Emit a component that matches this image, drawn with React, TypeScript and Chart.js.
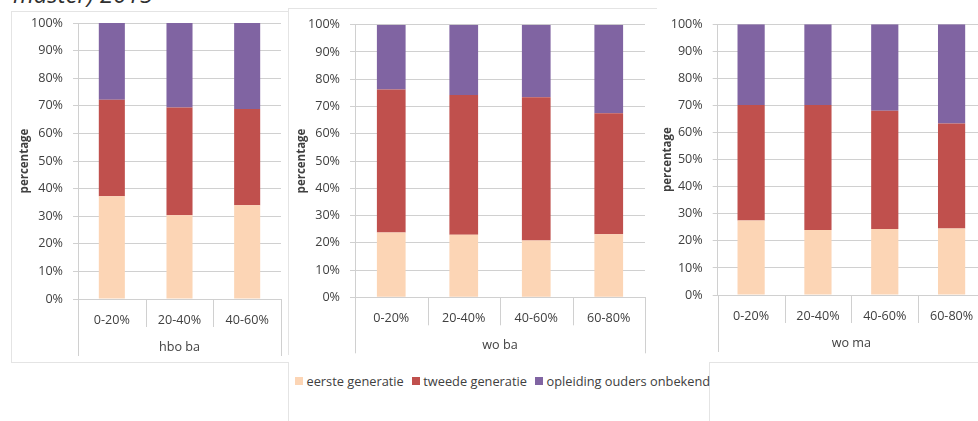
import React, { useEffect, useRef } from "react";
import { Chart, registerables } from "chart.js";

Chart.register(...registerables);

// ---------- data ----------
const seriesNames = ["eerste generatie", "tweede generatie", "opleiding ouders onbekend"];
const seriesColors = ["#FCD5B5", "#C0504D", "#8064A2"];

const hboBaCategories = ["0-20%", "20-40%", "40-60%"];
const hboBaEerste = [37.2, 30.3, 34.0];
const hboBaTweede = [35.0, 39.1, 34.8];
const hboBaOnbekend = [27.8, 30.6, 31.2];

const woBaCategories = ["0-20%", "20-40%", "40-60%", "60-80%"];
const woBaEerste = [23.8, 22.9, 20.8, 23.1];
const woBaTweede = [52.4, 51.3, 52.6, 44.4];
const woBaOnbekend = [23.8, 25.8, 26.6, 32.5];

const woMaCategories = ["0-20%", "20-40%", "40-60%", "60-80%"];
const woMaEerste = [27.5, 24.0, 24.4, 24.6];
const woMaTweede = [42.7, 46.2, 43.7, 38.8];
const woMaOnbekend = [29.8, 29.8, 31.9, 36.6];

const yMin = 0;
const yMax = 100;
const yStep = 10;
const yAxisTitle = "percentage";
const groupLabels = ["hbo ba", "wo ba", "wo ma"];
const headerText = "master) 2015";

// ---------- styles ----------
const FONT = "'Open Sans', 'DejaVu Sans', sans-serif";
const TEXT = "#404040";
const GRID = "#d0d0d0";
const FRAME = "#e4e4e4";
const TICK_SIZE = 12.6;

type PanelSpec = {
  categories: string[];
  series: number[][];
  group: string;
  left: number;
  top: number;
  width: number;
  height: number;
  padTop: number;
  padRight: number;
  yWidth: number;
  xHeight: number;
  barPct: number;
  titlePad: number;
  innerLen: number;
  outerLen: number;
  labelOffset: number;
};

const excelAxisPlugin = {
  id: "excelAxis",
  afterDraw(chart: any, _args: any, opts: any) {
    const xs = chart.scales.x;
    const area = chart.chartArea;
    const ctx = chart.ctx;
    const n = chart.data.labels.length;
    const bounds: number[] = [];
    for (let i = 0; i <= n; i++) {
      let px: number;
      if (i === 0) px = xs.left;
      else if (i === n) px = xs.right;
      else px = (xs.getPixelForValue(i - 1) + xs.getPixelForValue(i)) / 2;
      bounds.push(px);
    }
    ctx.save();
    ctx.strokeStyle = opts.color;
    ctx.lineWidth = 1;
    bounds.forEach((b, i) => {
      const len = i === 0 || i === n ? opts.outerLen : opts.innerLen;
      const xx = Math.round(b) + 0.5;
      ctx.beginPath();
      ctx.moveTo(xx, area.bottom);
      ctx.lineTo(xx, area.bottom + len);
      ctx.stroke();
    });
    ctx.fillStyle = opts.textColor;
    ctx.font = `${TICK_SIZE}px ${FONT}`;
    ctx.textAlign = "center";
    ctx.textBaseline = "middle";
    ctx.fillText(opts.label, (xs.left + xs.right) / 2, area.bottom + opts.labelOffset);
    ctx.restore();
  },
};

function Panel({ spec }: { spec: PanelSpec }) {
  const ref = useRef<HTMLCanvasElement | null>(null);
  useEffect(() => {
    if (!ref.current) return;
    const chart = new Chart(ref.current, {
      type: "bar",
      data: {
        labels: spec.categories,
        datasets: spec.series.map((vals, i) => ({
          label: seriesNames[i],
          data: vals,
          backgroundColor: seriesColors[i],
          borderWidth: 0,
          barPercentage: spec.barPct,
          categoryPercentage: 1,
        })),
      },
      options: {
        responsive: false,
        animation: false,
        layout: { padding: { top: spec.padTop, right: spec.padRight, left: 0, bottom: 0 } },
        plugins: {
          legend: { display: false },
          tooltip: { enabled: false },
          excelAxis: {
            color: GRID,
            textColor: TEXT,
            label: spec.group,
            innerLen: spec.innerLen,
            outerLen: spec.outerLen,
            labelOffset: spec.labelOffset,
          },
        } as any,
        scales: {
          x: {
            stacked: true,
            grid: { display: false, drawTicks: false },
            border: { display: true, color: GRID },
            ticks: {
              color: TEXT,
              font: { family: FONT, size: TICK_SIZE },
              padding: 13.5,
              autoSkip: false,
              maxRotation: 0,
            },
            afterFit: (s: any) => {
              s.height = spec.xHeight;
              s.paddingLeft = 0;
              s.paddingRight = 0;
            },
          },
          y: {
            stacked: true,
            min: yMin,
            max: yMax,
            ticks: {
              stepSize: yStep,
              callback: (v: any) => `${v}%`,
              padding: 10,
              color: TEXT,
              font: { family: FONT, size: TICK_SIZE },
            },
            grid: { color: GRID, tickLength: 5 },
            border: { display: true, color: GRID },
            title: {
              display: true,
              text: yAxisTitle,
              color: TEXT,
              font: { family: FONT, size: 11.5, weight: "bold" },
              padding: { top: spec.titlePad, bottom: 0 },
            },
            afterFit: (s: any) => {
              s.width = spec.yWidth;
              s.paddingTop = 0;
              s.paddingBottom = 0;
            },
          },
        },
      } as any,
      plugins: [excelAxisPlugin as any],
    });
    return () => chart.destroy();
  }, [spec]);
  return (
    <canvas
      ref={ref}
      width={spec.width}
      height={spec.height}
      style={{
        position: "absolute",
        left: spec.left,
        top: spec.top,
        width: spec.width,
        height: spec.height,
      }}
    />
  );
}

const panels: PanelSpec[] = [
  {
    categories: hboBaCategories,
    series: [hboBaEerste, hboBaTweede, hboBaOnbekend],
    group: groupLabels[0],
    left: 11,
    top: 11,
    width: 277,
    height: 350,
    padTop: 12,
    padRight: 7,
    yWidth: 67,
    xHeight: 62,
    barPct: 0.385,
    titlePad: 6.8,
    innerLen: 28,
    outerLen: 57,
    labelOffset: 48,
  },
  {
    categories: woBaCategories,
    series: [woBaEerste, woBaTweede, woBaOnbekend],
    group: groupLabels[1],
    left: 288,
    top: 9,
    width: 368,
    height: 346,
    padTop: 15.7,
    padRight: 11,
    yWidth: 67,
    xHeight: 57.7,
    barPct: 0.396,
    titlePad: 7.1,
    innerLen: 28,
    outerLen: 56,
    labelOffset: 48,
  },
  {
    categories: woMaCategories,
    series: [woMaEerste, woMaTweede, woMaOnbekend],
    group: groupLabels[2],
    left: 656,
    top: 9,
    width: 340,
    height: 346,
    padTop: 15.3,
    padRight: 11,
    yWidth: 61.7,
    xHeight: 60,
    barPct: 0.407,
    titlePad: 5.1,
    innerLen: 28,
    outerLen: 57,
    labelOffset: 48,
  },
];

export default function App() {
  return (
    <div
      style={{
        position: "absolute",
        left: 0,
        top: 0,
        width: 978,
        height: 421,
        overflow: "hidden",
        background: "#ffffff",
        fontFamily: FONT,
      }}
    >
      {/* header (cut off at top) */}
      <span
        style={{
          position: "absolute",
          right: 978 - 153,
          top: -18,
          fontSize: 24,
          lineHeight: "24px",
          fontStyle: "italic",
          color: "#303030",
          whiteSpace: "nowrap",
        }}
      >
        {headerText}
      </span>

      {/* panel 1 frame */}
      <div
        style={{
          position: "absolute",
          left: 11,
          top: 11,
          width: 277,
          height: 350,
          borderLeft: `1px solid ${FRAME}`,
          borderTop: `1px solid ${FRAME}`,
          borderBottom: `1px solid ${FRAME}`,
          background: "#fff",
        }}
      />
      {/* panel 2 frame */}
      <div
        style={{
          position: "absolute",
          left: 288,
          top: 8,
          width: 368,
          height: 346,
          borderLeft: `1px solid ${FRAME}`,
          borderTop: `1px solid ${FRAME}`,
          background: "#fff",
        }}
      />
      {/* panel 3 background */}
      <div
        style={{
          position: "absolute",
          left: 656,
          top: 9,
          width: 340,
          height: 346,
          background: "#fff",
        }}
      />
      {/* legend box edge */}
      <div
        style={{
          position: "absolute",
          left: 288,
          top: 363,
          width: 420,
          height: 80,
          borderLeft: `1px solid ${FRAME}`,
        }}
      />
      {/* right lower box */}
      <div
        style={{
          position: "absolute",
          left: 709,
          top: 362,
          width: 300,
          height: 80,
          borderLeft: `1px solid ${FRAME}`,
          borderTop: `1px solid ${FRAME}`,
        }}
      />

      {panels.map((p, i) => (
        <Panel key={i} spec={p} />
      ))}

      {/* legend */}
      <div
        style={{
          position: "absolute",
          left: 295,
          top: 372,
          height: 18,
          display: "flex",
          alignItems: "center",
          fontSize: 12.8,
          color: TEXT,
          whiteSpace: "nowrap",
        }}
      >
        {seriesNames.map((name, i) => (
          <span key={i} style={{ display: "flex", alignItems: "center", marginRight: 8 }}>
            <span
              style={{
                display: "inline-block",
                width: 8,
                height: 8,
                background: seriesColors[i],
                marginRight: 3.5,
              }}
            />
            <span>{name}</span>
          </span>
        ))}
      </div>
    </div>
  );
}
